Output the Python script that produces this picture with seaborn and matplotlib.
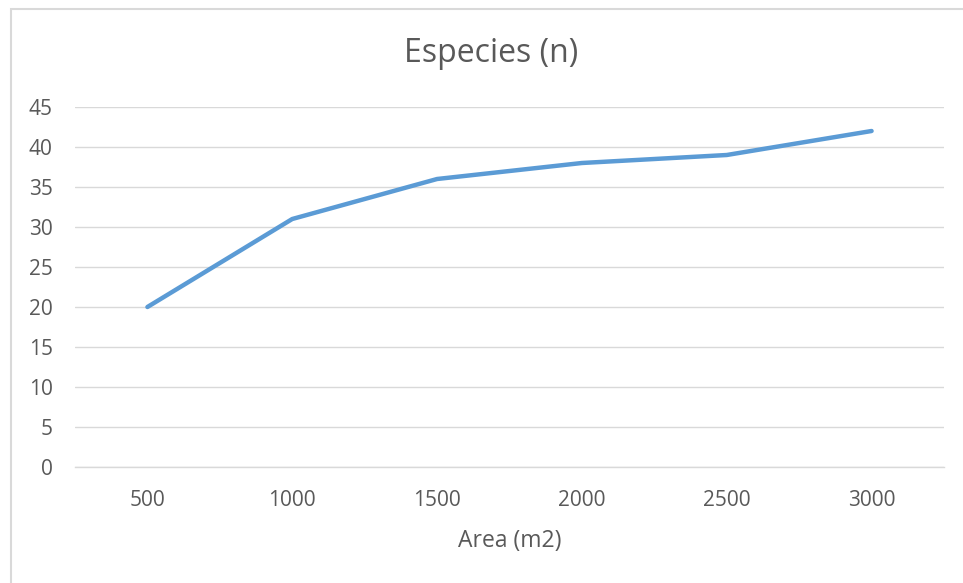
import matplotlib
matplotlib.use("Agg")
import matplotlib.pyplot as plt
import seaborn as sns
import pandas as pd
from matplotlib.patches import Rectangle

areas = [500, 1000, 1500, 2000, 2500, 3000]
species = [20, 31, 36, 38, 39, 42]
y_ticks = [0, 5, 10, 15, 20, 25, 30, 35, 40, 45]
title = "Especies (n)"
x_label = "Area (m2)"

sns.set_theme(style="white")
plt.rcParams['font.family'] = ['Open Sans', 'DejaVu Sans']

W, H = 963, 583
fig = plt.figure(figsize=(W / 100, H / 100), dpi=100)
fig.patch.set_facecolor("white")

# chart frame (open at right and bottom, as in the cropped screenshot)
fig.add_artist(Rectangle((10.5 / W, -0.1), 2.0, 1.1 - 8.5 / H,
                         transform=fig.transFigure, fill=False,
                         edgecolor="#D9D9D9", linewidth=1.5))

ax = fig.add_axes([75 / W, 1 - 467 / H, (944 - 75) / W, (467 - 107) / H])

df = pd.DataFrame({"Area": areas, "Especies": species})
sns.lineplot(data=df, x="Area", y="Especies", ax=ax, color="#5B9BD5",
             linewidth=3.2, solid_capstyle="round", solid_joinstyle="round")

ax.set_xlim(250, 3250)
ax.set_ylim(0, 45)
ax.set_xticks(areas)
ax.set_xticklabels([str(a) for a in areas])
ax.set_yticks(y_ticks)
ax.set_yticklabels([str(t) for t in y_ticks])

ax.grid(axis="y", color="#D9D9D9", linewidth=1)
ax.grid(axis="x", visible=False)
for s in ["top", "right", "left"]:
    ax.spines[s].set_visible(False)
ax.spines["bottom"].set_color("#D9D9D9")
ax.spines["bottom"].set_linewidth(1)
ax.set_axisbelow(True)

ax.tick_params(axis="both", length=0, labelsize=15, labelcolor="#595959")
ax.tick_params(axis="y", pad=16)
ax.tick_params(axis="x", pad=16.5)

ax.set_xlabel(x_label, fontsize=16.5, color="#595959", labelpad=13)
ax.set_ylabel("")
fig.text(491 / W, 1 - 54 / H, title, ha="center", va="center",
         fontsize=23, color="#595959")

fig.savefig("out.png", dpi=100, facecolor="white")
